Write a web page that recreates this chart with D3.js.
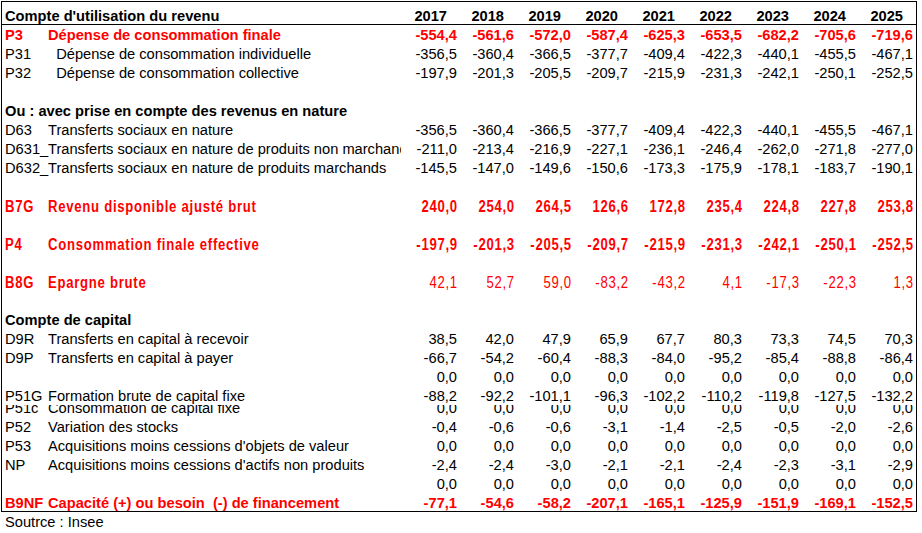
<!DOCTYPE html>
<html><head><meta charset="utf-8">
<script src="https://cdn.jsdelivr.net/npm/d3@7"></script>
<style>body{margin:0;background:#fff}svg text{white-space:pre}</style>
</head><body><svg id="c" width="922" height="533"></svg>
<script>
const years = [2017, 2018, 2019, 2020, 2021, 2022, 2023, 2024, 2025];
const rowCodes = ["", "P3", "P31", "P32", "", "", "D63", "D631_", "D632_", "", "B7G", "", "P4", "", "B8G", "", "", "D9R", "D9P", "", "P51G", "P51c", "P52", "P53", "NP", "", "B9NF"];
const rowLabels = ["Compte d'utilisation du revenu", "Dépense de consommation finale", "  Dépense de consommation individuelle", "  Dépense de consommation collective", "", "Ou : avec prise en compte des revenus en nature", "Transferts sociaux en nature", "Transferts sociaux en nature de produits non marchands", "Transferts sociaux en nature de produits marchands", "", "Revenu disponible ajusté brut", "", "Consommation finale effective", "", "Epargne brute", "", "Compte de capital", "Transferts en capital à recevoir", "Transferts en capital à payer", "", "Formation brute de capital fixe", "Consommation de capital fixe", "Variation des stocks", "Acquisitions moins cessions d'objets de valeur", "Acquisitions moins cessions d'actifs non produits", "", "Capacité (+) ou besoin  (-) de financement"];
// kind: header, total (red bold), normal, blank, section, narrowTotal, narrowMixed, short
const rowKinds = ["header", "total", "normal", "normal", "blank", "section", "normal", "normal", "normal", "blank", "narrowTotal", "blank", "narrowTotal", "blank", "narrowMixed", "blank", "section", "normal", "normal", "normal", "normal", "short", "normal", "normal", "normal", "normal", "total"];
const P3 = [-554.4, -561.6, -572.0, -587.4, -625.3, -653.5, -682.2, -705.6, -719.6];
const P31 = [-356.5, -360.4, -366.5, -377.7, -409.4, -422.3, -440.1, -455.5, -467.1];
const P32 = [-197.9, -201.3, -205.5, -209.7, -215.9, -231.3, -242.1, -250.1, -252.5];
const D63 = [-356.5, -360.4, -366.5, -377.7, -409.4, -422.3, -440.1, -455.5, -467.1];
const D631 = [-211.0, -213.4, -216.9, -227.1, -236.1, -246.4, -262.0, -271.8, -277.0];
const D632 = [-145.5, -147.0, -149.6, -150.6, -173.3, -175.9, -178.1, -183.7, -190.1];
const B7G = [240.0, 254.0, 264.5, 126.6, 172.8, 235.4, 224.8, 227.8, 253.8];
const P4 = [-197.9, -201.3, -205.5, -209.7, -215.9, -231.3, -242.1, -250.1, -252.5];
const B8G = [42.1, 52.7, 59.0, -83.2, -43.2, 4.1, -17.3, -22.3, 1.3];
const D9R = [38.5, 42.0, 47.9, 65.9, 67.7, 80.3, 73.3, 74.5, 70.3];
const D9P = [-66.7, -54.2, -60.4, -88.3, -84.0, -95.2, -85.4, -88.8, -86.4];
const ZERO1 = [0, 0, 0, 0, 0, 0, 0, 0, 0];
const P51G = [-88.2, -92.2, -101.1, -96.3, -102.2, -110.2, -119.8, -127.5, -132.2];
const P51c = [0, 0, 0, 0, 0, 0, 0, 0, 0];
const P52 = [-0.4, -0.6, -0.6, -3.1, -1.4, -2.5, -0.5, -2.0, -2.6];
const P53 = [0, 0, 0, 0, 0, 0, 0, 0, 0];
const NP = [-2.4, -2.4, -3.0, -2.1, -2.1, -2.4, -2.3, -3.1, -2.9];
const ZERO2 = [0, 0, 0, 0, 0, 0, 0, 0, 0];
const B9NF = [-77.1, -54.6, -58.2, -207.1, -165.1, -125.9, -151.9, -169.1, -152.5];
const rowValues = [years, P3, P31, P32, null, null, D63, D631, D632, null, B7G, null, P4, null, B8G, null, null, D9R, D9P, ZERO1, P51G, P51c, P52, P53, NP, ZERO2, B9NF];
const sourceText = "Soutrce : Insee";

const svg = d3.select("#c");
svg.append("rect").attr("width", 922).attr("height", 533).attr("fill", "#fff");
const RED = "#ff0000";
const FONT = "'Liberation Sans', Arial, sans-serif";
const SIZE = 14.67;

function measure(fam, txt, size, weight) {
  const t = svg.append("text").attr("font-family", fam).attr("font-size", size).attr("font-weight", weight).text(txt);
  const w = t.node().getComputedTextLength(); t.remove(); return w;
}
const hasNarrow = measure("'Liberation Sans Narrow', monospace", "Revenu disponible", 16, "bold") !== measure("monospace", "Revenu disponible", 16, "bold");
const NARROW = hasNarrow ? "'Liberation Sans Narrow', 'Arial Narrow', sans-serif" : FONT;
const narrowScale = hasNarrow ? 1 : 0.82;
const NSIZE = 16;
const NLS = 0.9;

const loc = d3.formatLocale({decimal: ",", thousands: " ", grouping: [3], currency: ["", ""], minus: "-"});
const fmt = loc.format(".1f");

const heights = rowKinds.map(k => k === "header" ? 24 : (k === "short" ? 12 : 19));
const bottoms = Array.from(d3.cumsum(heights));
const x = d3.scaleBand().domain(years).range([400, 913]);
const defs = svg.append("defs");
defs.append("clipPath").attr("id", "labclip").append("rect").attr("x", 0).attr("y", 0).attr("width", 401).attr("height", 533);

const g = svg.append("g");
rowKinds.forEach((kind, i) => {
  const bottom = bottoms[i], top = bottom - heights[i];
  const rg = g.append("g");
  if (kind === "short") {
    const id = "rc" + i;
    defs.append("clipPath").attr("id", id).append("rect").attr("x", 0).attr("y", top + 1).attr("width", 922).attr("height", heights[i]);
    rg.attr("clip-path", `url(#${id})`);
  }
  if (kind === "blank") return;
  const isRed = kind === "total" || kind === "narrowTotal" || kind === "narrowMixed";
  const narrow = kind === "narrowTotal" || kind === "narrowMixed";
  const base = narrow ? bottom - 2 : bottom - 3;
  const boldLab = kind !== "normal" && kind !== "short";
  const fam = narrow ? NARROW : FONT;
  const size = narrow ? NSIZE : SIZE;
  const ls = narrow ? NLS : 0;
  const color = isRed ? RED : "#000";
  function put(xp, txt, anchor, bold, clip) {
    const xx = anchor === "end" ? xp + ls : xp;
    const t = rg.append("text").attr("y", base).attr("font-family", fam).attr("font-size", size)
      .attr("font-weight", bold ? "bold" : "normal").attr("fill", color).attr("text-anchor", anchor)
      .attr("letter-spacing", ls).text(txt);
    if (narrowScale !== 1 && narrow) t.attr("transform", `translate(${xx},0) scale(${narrowScale},1)`).attr("x", 0);
    else t.attr("x", xx);
    if (clip) t.attr("clip-path", "url(#labclip)");
    return t;
  }
  if (kind === "header" || kind === "section") {
    put(5, rowLabels[i], "start", true);
  } else {
    put(5, rowCodes[i], "start", boldLab);
    put(48, rowLabels[i], "start", boldLab, true);
  }
  const vals = rowValues[i];
  if (vals) {
    vals.forEach((v, j) => {
      const yr = years[j];
      if (kind === "header") {
        put(x(yr) + x.bandwidth() - 10, String(v), "end", true);
      } else {
        put(x(yr) + x.bandwidth(), fmt(v), "end", kind === "total" || kind === "narrowTotal");
      }
    });
  }
});

const lines = svg.append("g").attr("stroke", "#000").attr("stroke-width", 1).attr("fill", "none").attr("shape-rendering", "crispEdges");
lines.append("rect").attr("x", 1.5).attr("y", 1.5).attr("width", 915).attr("height", bottoms[bottoms.length - 1] - 1);
lines.append("line").attr("x1", 1.5).attr("x2", 916.5).attr("y1", bottoms[0] + 0.5).attr("y2", bottoms[0] + 0.5);

svg.append("text").attr("x", 5).attr("y", bottoms[bottoms.length - 1] + 16).attr("font-family", FONT).attr("font-size", SIZE).attr("fill", "#000").text(sourceText);
</script></body></html>
